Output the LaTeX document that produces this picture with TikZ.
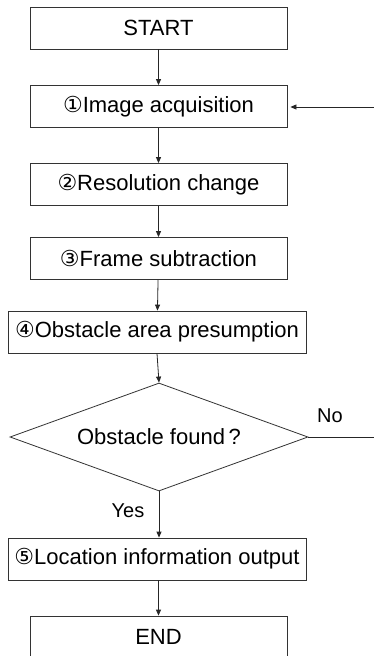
\documentclass[tikz,border=0pt]{standalone}
\usepackage{fontspec}
\setmainfont{Liberation Sans}
\newfontfamily\circfont{DejaVu Sans}
\usetikzlibrary{shapes.geometric,arrows.meta}
\tikzset{
  stepbox/.style={draw=black!80, line width=0.8pt, rectangle, inner sep=0pt,
    minimum width=257pt, minimum height=42pt, font=\fontsize{22}{26}\selectfont},
  widebox/.style={stepbox, minimum width=298pt},
  decision/.style={draw=black!80, line width=0.8pt, diamond, inner sep=0pt,
    aspect=2.76, minimum width=298pt, minimum height=108pt, font=\fontsize{22}{26}\selectfont},
  flow/.style={draw=black!85, line width=0.8pt, -{Triangle[length=6pt,width=5pt]}},
  plain/.style={draw=black!85, line width=0.8pt},
  lbl/.style={font=\fontsize{20}{24}\selectfont, inner sep=0pt}
}
\newcommand{\cnum}[1]{{\circfont #1}}
\begin{document}
\begin{tikzpicture}[x=1pt,y=-1pt]
\useasboundingbox (0,0) rectangle (374,656);
\clip (0,0) rectangle (374,656);
\fill[white] (0,0) rectangle (374,656);
\node[stepbox] (start) at (158.5,28) {START};
\node[stepbox] (b1) at (158.5,106.5) {\cnum{①}Image acquisition};
\node[stepbox] (b2) at (158.5,184.5) {\cnum{②}Resolution change};
\node[stepbox] (b3) at (158.5,258.5) {\cnum{③}Frame subtraction};
\node[widebox] (b4) at (157,332) {\cnum{④}Obstacle area presumption};
\node[decision] (dec) at (159,437) {Obstacle found\,?};
\node[widebox] (b5) at (157,559) {\cnum{⑤}Location information output};
\node[stepbox] (end) at (158.5,637) {END};
\coordinate (noend) at (374,437);
\coordinate (fb) at (374,107);
\node[lbl] (no) at (330,416) {No};
\node[lbl] (yes) at (128,511) {Yes};
\draw[flow] (start) -- (b1);
\draw[flow] (b1) -- (b2);
\draw[flow] (b2) -- (b3);
\draw[flow] (b3) -- (b4);
\draw[flow] (b4.south) -- (dec.north);
\draw[flow] (dec.south) -- (b5.north -| dec.south);
\draw[flow] (b5.south -| end.north) -- (end.north);
\draw[plain] (dec.east) -- (noend);
\draw[flow, shorten >=3pt] (fb) -- (b1.east |- fb);
\end{tikzpicture}
\end{document}
